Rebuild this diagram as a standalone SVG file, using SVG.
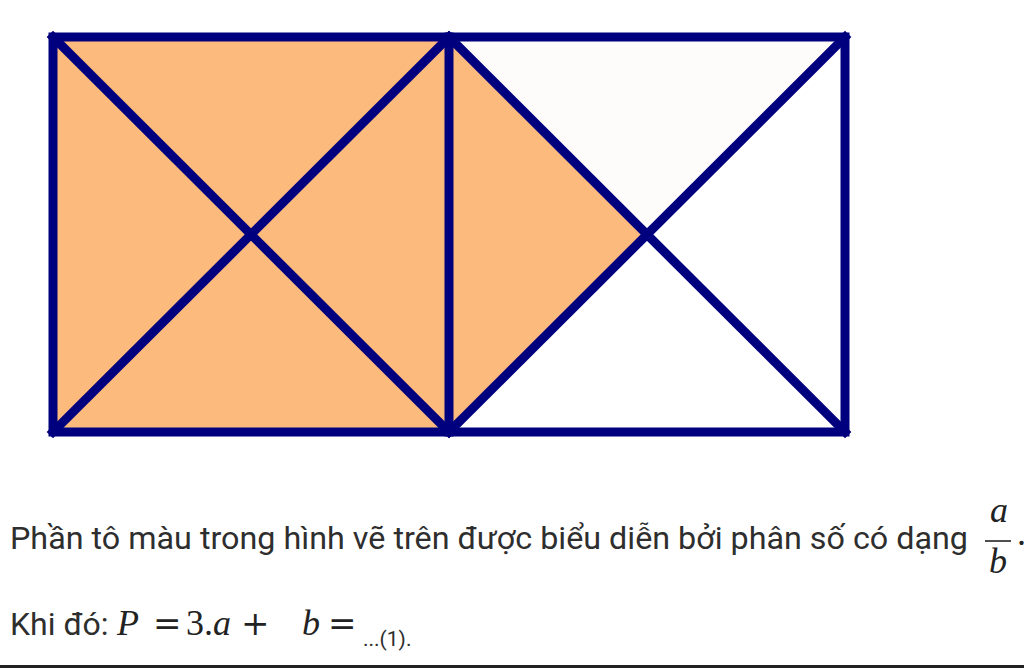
<svg xmlns="http://www.w3.org/2000/svg" width="1024" height="668" viewBox="0 0 1024 668">
  <style>
    .fill { fill: #fdba7d; }
    .pale { fill: #fdfcfb; }
    .edge { stroke: #00007f; stroke-width: 9; fill: none; stroke-linecap: square; stroke-linejoin: miter; }
    .txt { font-family: Roboto, "Liberation Sans", sans-serif; font-size: 32px; fill: #2e2e2e; }
    .m { font-family: "Liberation Serif", "DejaVu Serif", serif; font-size: 36px; fill: #222; }
    .op { font-family: "DejaVu Serif", "Liberation Serif", serif; font-size: 34px; fill: #222; }
    .mi { font-style: italic; }
    .sm { font-family: Roboto, "Liberation Sans", sans-serif; font-size: 21px; fill: #2e2e2e; }
  </style>
  <rect width="1024" height="668" fill="#ffffff"/>

  <g id="left-square">
    <rect class="fill" x="53" y="37" width="396" height="395"/>
  </g>
  <g id="right-square">
    <polygon class="pale" points="449,37 845,37 647,234.5"/>
    <polygon class="fill" points="449,37 647,234.5 449,432"/>
  </g>

  <g id="connectors">
    <rect class="edge" x="53" y="37" width="792" height="395"/>
    <line class="edge" x1="449" y1="37" x2="449" y2="432"/>
    <line class="edge" x1="53" y1="37" x2="449" y2="432"/>
    <line class="edge" x1="449" y1="37" x2="53" y2="432"/>
    <line class="edge" x1="449" y1="37" x2="845" y2="432"/>
    <line class="edge" x1="845" y1="37" x2="449" y2="432"/>
  </g>

  <g id="text">
    <text class="txt" x="10" y="549" textLength="958" lengthAdjust="spacingAndGlyphs">Phần tô màu trong hình vẽ trên được biểu diễn bởi phân số có dạng</text>
    <text class="m mi" x="990" y="522" font-size="32">a</text>
    <line x1="985" y1="541" x2="1011" y2="541" stroke="#222" stroke-width="1.6"/>
    <text class="m mi" x="989" y="573" font-size="32">b</text>
    <text class="m" x="1017" y="545" font-size="32">.</text>

    <text class="txt" x="10" y="635">Khi đó:</text>
    <text class="m mi" x="117" y="635" font-size="37">P</text>
    <text class="op" x="153" y="635">=</text>
    <text class="m" x="186" y="635">3.</text>
    <text class="m mi" x="213" y="635">a</text>
    <text class="op" x="241" y="635">+</text>
    <text class="m mi" x="302" y="635">b</text>
    <text class="op" x="328" y="635">=</text>
    <text class="sm" x="363" y="646">...(1).</text>
  </g>

  <line x1="0" y1="666.5" x2="1024" y2="666.5" stroke="#222" stroke-width="3"/>
</svg>
